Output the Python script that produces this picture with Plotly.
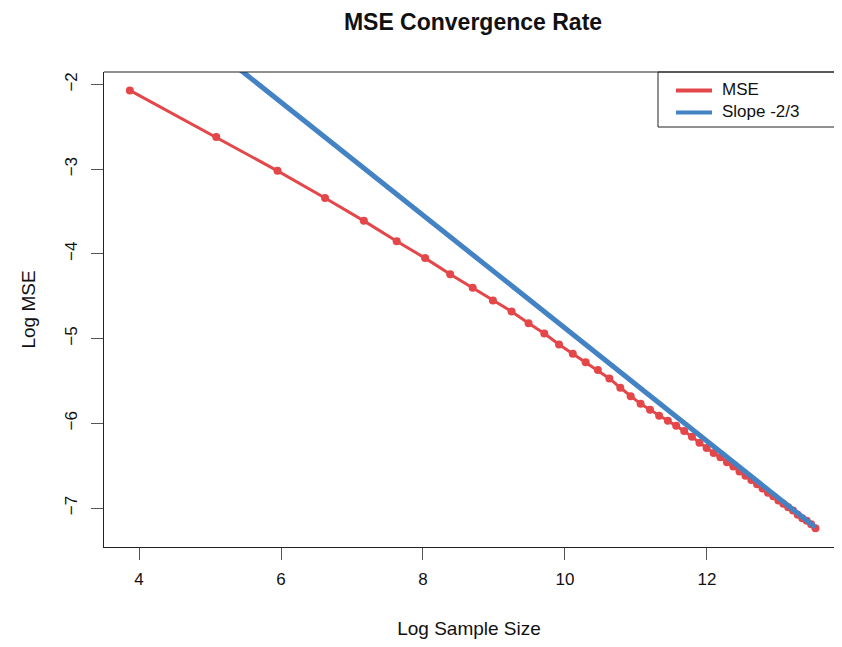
import plotly.graph_objects as go

# ---- data ----
log_sample_size = [3.871, 5.088, 5.951, 6.620, 7.167, 7.630, 8.030, 8.383, 8.700, 8.985,
                   9.247, 9.487, 9.709, 9.916, 10.110, 10.291, 10.463, 10.625, 10.779, 10.925,
                   11.065, 11.198, 11.326, 11.449, 11.566, 11.679, 11.788, 11.894, 11.995, 12.094,
                   12.189, 12.281, 12.371, 12.458, 12.542, 12.625, 12.705, 12.783, 12.859, 12.933,
                   13.005, 13.075, 13.144, 13.212, 13.278, 13.342, 13.405, 13.467, 13.528]
log_mse = [-2.07, -2.62, -3.02, -3.34, -3.61, -3.85, -4.05, -4.24, -4.40, -4.55,
           -4.68, -4.82, -4.94, -5.07, -5.18, -5.28, -5.37, -5.47, -5.58, -5.68,
           -5.77, -5.84, -5.91, -5.97, -6.03, -6.09, -6.16, -6.23, -6.29, -6.35,
           -6.40, -6.46, -6.51, -6.57, -6.62, -6.67, -6.72, -6.77, -6.82, -6.86,
           -6.91, -6.95, -6.99, -7.03, -7.08, -7.12, -7.15, -7.19, -7.24]
ref_slope = -2 / 3
ref_intercept = 1.79
x_ticks = [4, 6, 8, 10, 12]
y_ticks = [-2, -3, -4, -5, -6, -7]
legend_names = ["MSE", "Slope -2/3"]

x_range = [3.507, 13.789]
y_range = [-7.46, -1.853]

RED = "#E4474A"
BLUE = "#4383C4"
FONT = "Liberation Sans, Arial, Helvetica, sans-serif"

# figure sits inside the page's 8px body margin
W, H = 826, 631
ML, MR, MT, MB = 96, 0, 64, 92
PW, PH = W - ML - MR, H - MT - MB


def px_x(p):
    return (p - ML) / PW


def px_y(p):
    return 1 - (p - MT) / PH


line_x = [min(log_sample_size), max(log_sample_size)]
line_y = [ref_intercept + ref_slope * v for v in line_x]

fig = go.Figure()
fig.add_trace(go.Scatter(
    x=log_sample_size, y=log_mse, mode="lines+markers", name=legend_names[0],
    line=dict(color=RED, width=3), marker=dict(color=RED, size=8),
    showlegend=False,
))
fig.add_trace(go.Scatter(
    x=line_x, y=line_y, mode="lines", name=legend_names[1],
    line=dict(color=BLUE, width=5), showlegend=False,
))

# top border of the plot box (right side runs off the image as in the reference)
fig.add_shape(type="line", xref="paper", yref="paper", x0=0, x1=1.05, y0=1, y1=1,
              line=dict(color="#222222", width=1))

# legend box
fig.add_shape(type="rect", xref="paper", yref="paper",
              x0=px_x(650), x1=px_x(900), y0=px_y(119), y1=px_y(64),
              line=dict(color="#222222", width=1), fillcolor="rgba(0,0,0,0)")
legend_colors = [RED, BLUE]
legend_rows = [81.5, 103.5]
for name, col, ry in zip(legend_names, legend_colors, legend_rows):
    fig.add_shape(type="line", xref="paper", yref="paper",
                  x0=px_x(668), x1=px_x(704), y0=px_y(ry + 1), y1=px_y(ry + 1),
                  line=dict(color=col, width=4))
    fig.add_annotation(text=name, xref="paper", yref="paper",
                       x=px_x(713), y=px_y(ry), xanchor="left", yanchor="middle",
                       showarrow=False, borderpad=0,
                       font=dict(size=17, family=FONT, color="#111111"))

fig.update_layout(
    width=W, height=H,
    margin=dict(l=ML, r=MR, t=MT, b=MB, autoexpand=False),
    paper_bgcolor="white", plot_bgcolor="white",
    font=dict(family=FONT, size=17, color="#111111"),
    title=dict(text="<b>MSE Convergence Rate</b>", x=465 / W, xanchor="center",
               y=1 - 14 / H, yanchor="middle", yref="container",
               font=dict(size=23, family=FONT, color="#111111")),
    showlegend=False,
    xaxis=dict(range=x_range, tickvals=x_ticks, ticks="outside", ticklen=12,
               tickcolor="#555555", showgrid=False, zeroline=False,
               showline=True, linecolor="#222222", mirror=False, linewidth=1,
               ticklabelstandoff=5, automargin=False,
               tickfont=dict(size=17),
               title=dict(text="Log Sample Size", standoff=40, font=dict(size=19))),
    yaxis=dict(range=y_range, tickvals=y_ticks, ticks="outside", ticklen=12,
               tickcolor="#555555", showgrid=False, zeroline=False,
               showline=True, linecolor="#222222", mirror=False, linewidth=1,
               tickangle=-90, ticklabelstandoff=7, automargin=False,
               tickfont=dict(size=17),
               title=dict(text="Log MSE", standoff=21, font=dict(size=19))),
)

fig.write_html("out.html")
